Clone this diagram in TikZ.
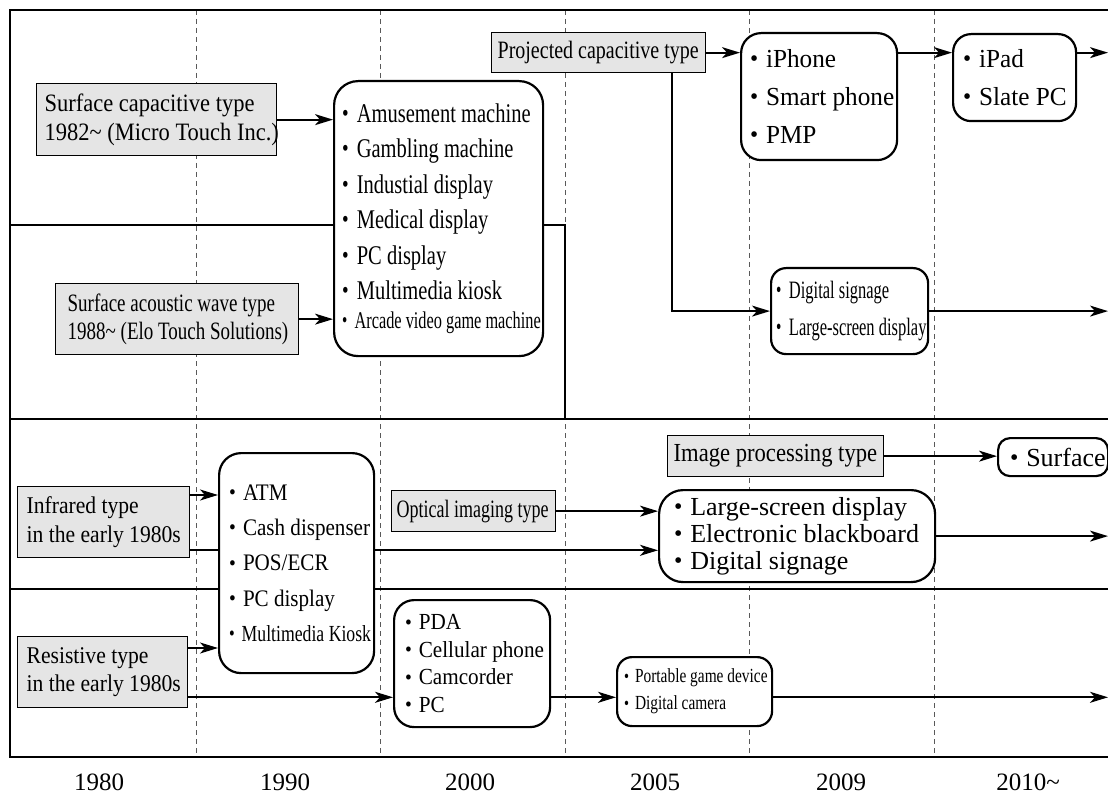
\documentclass[tikz,border=0pt]{standalone}
\usepackage{graphicx}
\usepackage{fontspec}
\setmainfont{Liberation Serif}
\usetikzlibrary{arrows.meta}
% word space used by the single-line boxes below
\newcommand\wordgap{6pt}
% size, leading, horizontal stretch (word spaces narrowed to match)
\newcommand\tf[3]{\fontsize{#1}{#2}\selectfont\addfontfeatures{FakeStretch=#3}%
  \edef\wordgap{\fpeval{#1*#3*0.25}pt}}
% one bulleted entry, kept on a single line
\newcommand\itm[1]{\mbox{\spaceskip=\wordgap\relax
  \raisebox{.03em}{\scalebox{.92}{\textbullet}}\hspace{.3em}#1}}
\newcommand\oneln[1]{\mbox{\spaceskip=\wordgap\relax #1}}

\begin{document}
\begin{tikzpicture}[x=1pt,y=-1pt,
  frame/.style={line width=2pt},
  rowline/.style={line width=1.3pt},
  era/.style={dash pattern=on 5pt off 4pt, line width=1pt, black!65},
  tech/.style={draw, line width=1.3pt, fill=black!10, anchor=north west, align=left, inner ysep=0pt},
  app/.style={draw, line width=2.2pt, fill=white, anchor=north west, align=left, inner ysep=0pt},
  flow/.style={line width=1.8pt, -{Stealth[length=18pt,width=11pt,inset=5pt]}},
  link/.style={line width=1.8pt},
  year/.style={anchor=base, font=\tf{25}{30}{1}}
]
\useasboundingbox (0,0) rectangle (1108,794);

% era separators
\foreach \x in {196,380,565,749,934}
  \draw[era] (\x,10) -- (\x,757);

% row separators and frame
\draw[rowline] (10,225) -- (565,225) -- (565,419);
\draw[rowline] (10,419) -- (1108,419);
\draw[rowline] (10,589) -- (1108,589);
\draw[frame] (1108,10) -- (10,10) -- (10,757) -- (1108,757);

% technologies
\node[tech, minimum width=240pt, minimum height=72pt, inner xsep=8pt, text width=224pt,
      font=\tf{25}{28.5}{.9}] (surfcap) at (36,83)
  {\oneln{Surface capacitive type}\\\oneln{1982\textasciitilde{} (Micro Touch Inc.)}};
\node[tech, minimum width=243pt, minimum height=71pt, inner xsep=12pt, text width=219pt,
      font=\tf{25}{28}{.76}] (saw) at (55,283)
  {\oneln{Surface acoustic wave type}\\\oneln{1988\textasciitilde{} (Elo Touch Solutions)}};
\node[tech, minimum width=214pt, minimum height=40pt, inner xsep=6pt, text width=202pt,
      font=\tf{25}{30}{.8}] (proj) at (491,32)
  {\oneln{Projected capacitive type}};
\node[tech, minimum width=216pt, minimum height=41pt, inner xsep=6pt, text width=204pt,
      font=\tf{26}{30}{.87}] (imgproc) at (667,435)
  {\oneln{Image processing type}};
\node[tech, minimum width=164pt, minimum height=41pt, inner xsep=5pt, text width=154pt,
      font=\tf{25}{30}{.72}] (optical) at (391,490)
  {\oneln{Optical imaging type}};
\node[tech, minimum width=172pt, minimum height=71pt, inner xsep=9pt, text width=154pt,
      font=\tf{24}{28.7}{.9}] (infrared) at (17,486)
  {\oneln{Infrared type}\\\oneln{in the early 1980s}};
\node[tech, minimum width=170pt, minimum height=71pt, inner xsep=9pt, text width=152pt,
      font=\tf{24}{28.7}{.9}] (resist) at (17,636)
  {\oneln{Resistive type}\\\oneln{in the early 1980s}};

% applications
\node[app, rounded corners=24pt, minimum width=209pt, minimum height=275pt, inner xsep=8pt,
      text width=193pt, font=\tf{27}{35.5}{.76}] (amuse) at (333,80)
  {\itm{Amusement machine}\\\itm{Gambling machine}\\\itm{Industial display}\\
   \itm{Medical display}\\\itm{PC display}\\\itm{Multimedia kiosk}\\[-6.5pt]
   {\tf{24}{29}{.68}\itm{Arcade video game machine}}};
\node[app, rounded corners=20pt, minimum width=156pt, minimum height=127pt, inner xsep=9pt,
      text width=138pt, font=\tf{26}{38}{.97}] (iphone) at (740,32)
  {\itm{iPhone}\\\itm{Smart phone}\\\itm{PMP}};
\node[app, rounded corners=18pt, minimum width=123pt, minimum height=87pt, inner xsep=10pt,
      text width=103pt, font=\tf{26}{38.5}{.97}] (ipad) at (952,33)
  {\itm{iPad}\\\itm{Slate PC}};
\node[app, rounded corners=15pt, minimum width=157pt, minimum height=86pt, inner xsep=5pt,
      text width=147pt, font=\tf{25}{37}{.66}] (dsig) at (770,267)
  {\itm{Digital signage}\\\itm{Large-screen display}};
\node[app, rounded corners=12pt, minimum width=110pt, minimum height=38pt, inner xsep=12pt,
      text width=86pt, font=\tf{26}{30}{1}] (surface) at (997,437)
  {\itm{Surface}};
\node[app, rounded corners=24pt, minimum width=276pt, minimum height=92pt, inner xsep=15pt,
      text width=246pt, font=\tf{26}{27}{1}] (large) at (658,489)
  {\itm{Large-screen display}\\\itm{Electronic blackboard}\\\itm{Digital signage}};
\node[app, rounded corners=22pt, minimum width=155pt, minimum height=220pt, inner xsep=10pt,
      text width=135pt, font=\tf{23.7}{35.3}{.89}] (atm) at (218,452)
  {\itm{ATM}\\\itm{Cash dispenser}\\\itm{POS/ECR}\\\itm{PC display}\\
   {\tf{23}{35.3}{.77}\itm{Multimedia Kiosk}}};
\node[app, rounded corners=20pt, minimum width=156pt, minimum height=127pt, inner xsep=11pt,
      text width=134pt, font=\tf{23}{27.5}{.92}] (pda) at (393,599)
  {\itm{PDA}\\\itm{Cellular phone}\\\itm{Camcorder}\\\itm{PC}};
\node[app, rounded corners=15pt, minimum width=155pt, minimum height=69pt, inner xsep=7pt,
      text width=141pt, font=\tf{20}{27}{.77}] (portable) at (616,656)
  {\itm{Portable game device}\\\itm{Digital camera}};

% years
\node[year] (y1980) at (99,790) {1980};
\node[year] (y1990) at (285,790) {1990};
\node[year] (y2000) at (470,790) {2000};
\node[year] (y2005) at (655,790) {2005};
\node[year] (y2009) at (841,790) {2009};
\node[year] (y2010) at (1028,790) {2010\textasciitilde};

% connectors
\coordinate (edge) at (1108,0);
\coordinate (bend) at (672,0);
\draw[flow] (surfcap.east) -- (surfcap.east -| amuse.west);
\draw[flow] (saw.east) -- (saw.east -| amuse.west);
\draw[flow] (proj.east) -- (proj.east -| iphone.west);
\draw[flow] (iphone.east |- proj.east) -- (ipad.west |- proj.east);
\draw[flow] (ipad.east |- proj.east) -- (edge |- proj.east);
\draw[flow] (proj.south -| bend) |- (dsig.west);
\draw[flow] (dsig.east) -- (dsig.east -| edge);
\draw[flow] (imgproc.east) -- (imgproc.east -| surface.west);
\draw[flow] (optical.east) -- (optical.east -| large.west);
\draw[flow] (large.east) -- (large.east -| edge);

\coordinate (ir1) at ([yshift=-9pt]infrared.north east);
\coordinate (ir2) at ([yshift=8pt]infrared.south east);
\draw[flow] (ir1) -- (ir1 -| atm.west);
\draw[link] (ir2) -- (ir2 -| atm.west);
\draw[flow] (ir2 -| atm.east) -- (ir2 -| large.west);

\coordinate (rs1) at ([yshift=-12pt]resist.north east);
\coordinate (rs2) at ([yshift=11pt]resist.south east);
\draw[flow] (rs1) -- (rs1 -| atm.west);
\draw[flow] (rs2) -- (rs2 -| pda.west);
\draw[flow] (rs2 -| pda.east) -- (rs2 -| portable.west);
\draw[flow] (rs2 -| portable.east) -- (rs2 -| edge);
\end{tikzpicture}
\end{document}
